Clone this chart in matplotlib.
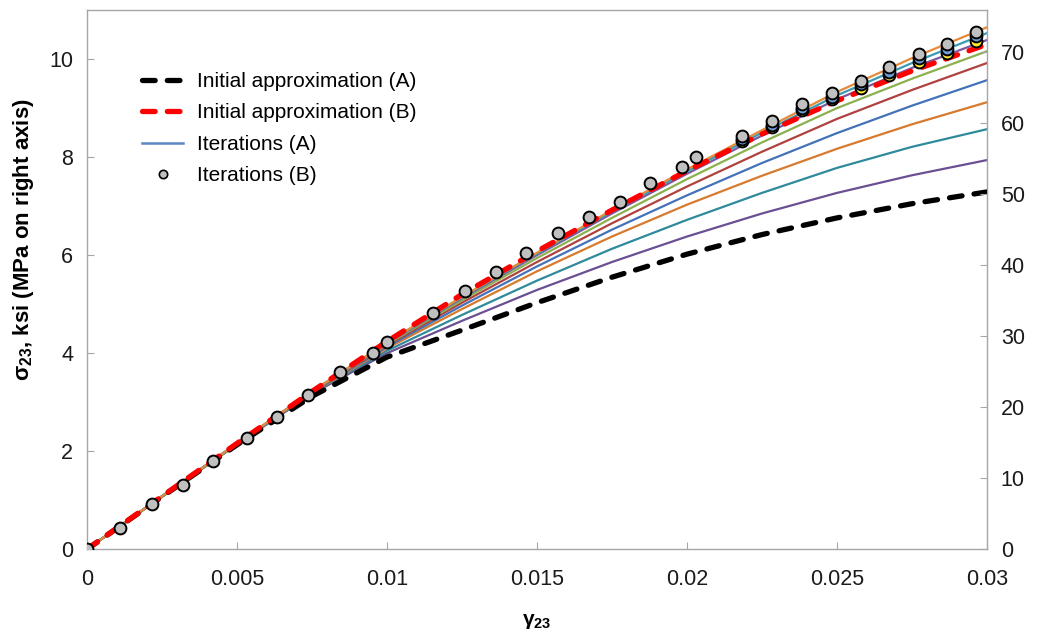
import numpy as np
import matplotlib
matplotlib.use('Agg')
from matplotlib import pyplot as plt

plt.rcParams['font.family'] = ['Liberation Sans', 'DejaVu Sans']
plt.rcParams['mathtext.fontset'] = 'custom'
plt.rcParams['mathtext.rm'] = 'Liberation Sans'
plt.rcParams['mathtext.bf'] = 'Liberation Sans:bold'
plt.rcParams['mathtext.it'] = 'Liberation Sans:italic'

# strain grid for the curves
gamma = [0, 0.0025, 0.005, 0.0075, 0.01, 0.0125, 0.015, 0.0175, 0.02, 0.0225, 0.025, 0.0275, 0.03]

# initial approximations (ksi)
init_a = [0, 1.07, 2.13, 3.12, 3.92, 4.47, 5.03, 5.55, 6.02, 6.42, 6.76, 7.05, 7.29]
init_b = [0, 1.08, 2.16, 3.22, 4.24, 5.20, 6.08, 6.92, 7.72, 8.47, 9.15, 9.76, 10.30]

# iterations (A), bottom to top
iter_a = [
    [0, 1.07, 2.14, 3.17, 4.00, 4.66, 5.29, 5.86, 6.38, 6.85, 7.27, 7.63, 7.94],
    [0, 1.07, 2.14, 3.18, 4.05, 4.78, 5.48, 6.13, 6.72, 7.27, 7.78, 8.21, 8.57],
    [0, 1.07, 2.15, 3.19, 4.10, 4.90, 5.67, 6.38, 7.03, 7.62, 8.17, 8.67, 9.12],
    [0, 1.08, 2.15, 3.20, 4.13, 4.97, 5.77, 6.52, 7.22, 7.88, 8.49, 9.05, 9.57],
    [0, 1.08, 2.15, 3.20, 4.16, 5.03, 5.86, 6.65, 7.40, 8.11, 8.78, 9.37, 9.92],
    [0, 1.08, 2.15, 3.21, 4.18, 5.08, 5.94, 6.76, 7.55, 8.30, 9.00, 9.60, 10.16],
    [0, 1.08, 2.16, 3.21, 4.20, 5.12, 6.00, 6.85, 7.66, 8.44, 9.18, 9.82, 10.39],
    [0, 1.08, 2.16, 3.22, 4.21, 5.14, 6.03, 6.89, 7.71, 8.50, 9.26, 9.92, 10.53],
    [0, 1.08, 2.16, 3.22, 4.22, 5.15, 6.05, 6.92, 7.75, 8.55, 9.33, 10.02, 10.65],
]
iter_a_colors = ['#6b4f93', '#2f8a9c', '#d77a2e', '#4372b8', '#b0413e',
                 '#8cb04f', '#7a5aa0', '#3a9bb3', '#e48a3a']

# iterations (B), points
pts_x = [0, 0.0011, 0.00217, 0.0032, 0.0042, 0.00533, 0.00633, 0.00737, 0.00843, 0.00953,
         0.0100, 0.01153, 0.0126, 0.01363, 0.01463, 0.0157, 0.01673, 0.01777, 0.01877, 0.01983,
         0.0203, 0.02183, 0.02283, 0.02383, 0.02483, 0.0258, 0.02673, 0.02773, 0.02867, 0.02963]
pts_y = [0, 0.43, 0.92, 1.31, 1.81, 2.26, 2.69, 3.14, 3.61, 4.00,
         4.22, 4.82, 5.27, 5.65, 6.04, 6.45, 6.78, 7.08, 7.47, 7.80,
         8.00, 8.43, 8.73, 9.08, 9.31, 9.56, 9.83, 10.10, 10.30, 10.56]
# earlier iterations (B) that show below the last one at large strain
prev_x = [0.02183, 0.02283, 0.02383, 0.02483, 0.0258, 0.02673, 0.02773, 0.02867, 0.02963]
prev1_y = [8.37, 8.66, 9.00, 9.23, 9.49, 9.74, 10.03, 10.21, 10.47]
prev2_y = [8.33, 8.61, 8.96, 9.18, 9.42, 9.67, 9.95, 10.13, 10.37]

KSI_TO_MPA = 6.89476

fig = plt.figure(figsize=(10.38, 6.32), dpi=100)
ax = fig.add_axes([0.0838, 0.131, 0.867, 0.853])

for ys, c in zip(iter_a, iter_a_colors):
    ax.plot(gamma, ys, color=c, lw=1.6, zorder=2)

ax.plot(gamma, init_a, color='black', lw=3.8, dashes=(2.4, 2.3),
        dash_capstyle='round', zorder=3, label='Initial approximation (A)')
ax.plot(gamma, init_b, color='#ff0000', lw=3.8, dashes=(2.4, 2.3),
        dash_capstyle='round', zorder=4, label='Initial approximation (B)')
# dummy handle for legend
ax.plot([], [], color='#5b87c5', lw=1.8, label='Iterations (A)')

ax.plot(prev_x, prev2_y, 'o', ms=8.5, mfc='#ffee33', mec='black', mew=1.4, zorder=5)
ax.plot(prev_x, prev1_y, 'o', ms=8.5, mfc='#6f9fd8', mec='black', mew=1.4, zorder=6)
ax.plot(pts_x, pts_y, 'o', ms=8.5, mfc='#c0c0c0', mec='black', mew=1.4, zorder=7)
ax.plot([], [], 'o', ms=6, mfc='#c0c0c0', mec='black', mew=1.2, label='Iterations (B)')

ax.set_xlim(0, 0.03)
ax.set_ylim(0, 11)
ax.set_xticks([0, 0.005, 0.01, 0.015, 0.02, 0.025, 0.03])
ax.set_xticklabels(['0', '0.005', '0.01', '0.015', '0.02', '0.025', '0.03'])
ax.set_yticks([0, 2, 4, 6, 8, 10])

for s in ax.spines.values():
    s.set_color('#a6a6a6')
    s.set_linewidth(1.0)
ax.tick_params(direction='in', length=5, color='#a6a6a6', labelsize=15.5,
               labelcolor='#1a1a1a', pad=10)
ax.tick_params(axis='x', pad=14)

ax2 = ax.twinx()
ax2.set_ylim(0, 11 * KSI_TO_MPA)
ax2.set_yticks([0, 10, 20, 30, 40, 50, 60, 70])
for s in ax2.spines.values():
    s.set_visible(False)
ax2.tick_params(direction='in', length=5, color='#a6a6a6', labelsize=15.5,
                labelcolor='#1a1a1a', pad=10)

ax.set_xlabel(r'γ$_{\mathbf{23}}$', fontsize=15, fontweight='bold', labelpad=16)
ax.set_ylabel(r'σ$_{\mathbf{23}}$, ksi (MPa on right axis)', fontsize=16,
              fontweight='bold')
ax.yaxis.set_label_coords(-0.057, 0.575)

ax.legend(loc='upper left', bbox_to_anchor=(0.04, 0.92), frameon=False,
          fontsize=15, handlelength=2.0, labelspacing=0.6, handletextpad=0.65)

fig.savefig('out.png', dpi=100)
